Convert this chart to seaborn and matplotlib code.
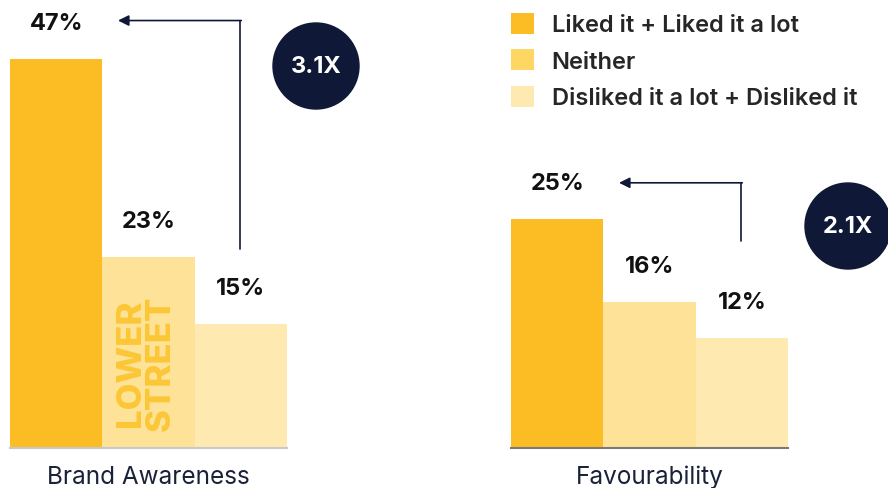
import matplotlib
matplotlib.use("Agg")
import matplotlib.pyplot as plt
import pandas as pd
import seaborn as sns
from matplotlib.patches import Ellipse, Patch

# Data
metrics = ["Brand Awareness", "Favourability"]
responses = ["Liked it + Liked it a lot", "Neither", "Disliked it a lot + Disliked it"]
brand_awareness = [47, 23, 15]
favourability = [25, 16, 12]
multipliers = ["3.1X", "2.1X"]

colors = ["#fbbd23", "#fde297", "#feeab0"]
legend_colors = ["#fbbd23", "#fdd663", "#feeab0"]
navy = "#0f1836"

df = pd.DataFrame({
    "metric": [metrics[0]] * 3 + [metrics[1]] * 3,
    "response": responses * 2,
    "value": brand_awareness + favourability,
})

sns.set_theme(style="white")
plt.rcParams["font.family"] = ["Inter", "DejaVu Sans"]

W, H = 888, 489
fig = plt.figure(figsize=(W / 100, H / 100), dpi=100)

# axes placed in pixel terms: (left px, right px, ylim top, baseline colour)
layouts = [(10, 287, 54.2, "#c9c9c9"), (511, 788, 49.1, "#7a7a7a")]
axes = []
for (x0, x1, ytop, basecol), metric in zip(layouts, metrics):
    ax = fig.add_axes([x0 / W, (H - 449) / H, (x1 - x0) / W, 449 / H])
    sub = df[df["metric"] == metric]
    sns.barplot(data=sub, x="metric", y="value", hue="response", hue_order=responses,
                palette=colors, width=1, saturation=1, linewidth=0, ax=ax, legend=False)
    ax.set_xlim(-0.5, 0.5)
    ax.set_ylim(0, ytop)
    ax.set_xlabel("")
    ax.set_ylabel("")
    ax.set_yticks([])
    for s in ["top", "left", "right"]:
        ax.spines[s].set_visible(False)
    ax.spines["bottom"].set_color(basecol)
    ax.spines["bottom"].set_linewidth(1.5)
    ax.tick_params(axis="x", length=0, pad=12, labelsize=17.5, labelcolor="#1a2238")
    axes.append(ax)

# value labels above bars
for ax, vals in zip(axes, [brand_awareness, favourability]):
    ppu = 449 / ax.get_ylim()[1]
    for i, v in enumerate(vals):
        xc = -1 / 3 + i / 3
        ax.text(xc, v + 36 / ppu, f"{v}%", ha="center", va="center",
                fontsize=17, fontweight="bold", color="#111111", clip_on=False)

# arrows from lowest to highest label
arrow_specs = [(24.0, 51.6), (22.6, 29.0)]
for ax, (ylow, yhigh) in zip(axes, arrow_specs):
    ax.plot([0.33, 0.33], [ylow, yhigh], color=navy, lw=1.2, clip_on=False)
    ax.annotate("", xy=(-0.11, yhigh), xytext=(0.335, yhigh),
                arrowprops=dict(arrowstyle="-|>", color=navy, lw=1.2,
                                mutation_scale=16, shrinkA=0, shrinkB=0))

# multiplier circles
for (cx, cy), txt in zip([(316, 67), (848, 227)], multipliers):
    fig.add_artist(Ellipse((cx / W, 1 - cy / H), 86 / W, 86 / H,
                           transform=fig.transFigure, color=navy))
    fig.text(cx / W, 1 - cy / H, txt, ha="center", va="center", color="white",
             fontsize=17, fontweight="bold")

# watermark in the "Neither" bar
wm = dict(rotation=90, ha="center", va="center", fontsize=25, fontweight="heavy",
          color="#fcc42c", alpha=0.9)
axes[0].text(-0.063, 10.3, "LOWER", **wm)
axes[0].text(0.045, 10.3, "STREET", **wm)

# legend
handles = [Patch(facecolor=c, edgecolor="none") for c in legend_colors]
fig.legend(handles, responses, loc="upper left", bbox_to_anchor=(511 / W, 1 - 14 / H),
           frameon=False, prop={"weight": "semibold", "size": 17},
           handlelength=0.97, handleheight=0.97, handletextpad=0.75,
           labelspacing=0.55, borderpad=0, borderaxespad=0)

fig.savefig("out.png", dpi=100)
